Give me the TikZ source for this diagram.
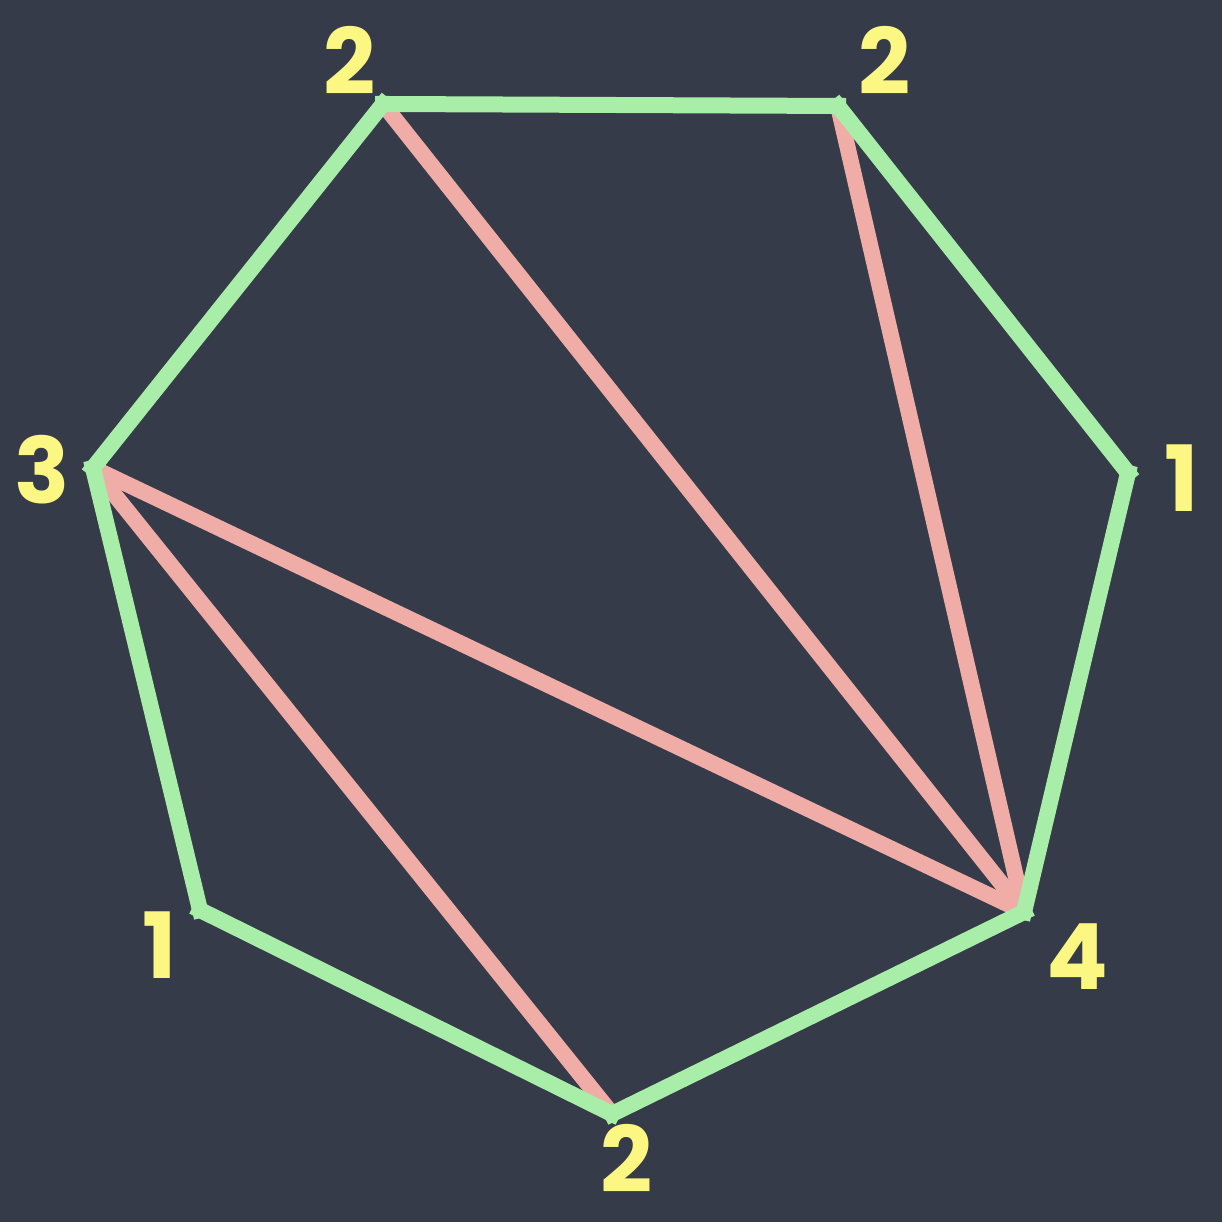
\documentclass[tikz,border=0pt]{standalone}
\usepackage{fontspec}
\setmainfont{Poppins}
\usetikzlibrary{positioning}
\definecolor{Board}{RGB}{53,59,72}
\definecolor{ChalkGreen}{RGB}{168,238,168}
\definecolor{ChalkRed}{RGB}{240,172,166}
\definecolor{ChalkYellow}{RGB}{252,246,130}

\begin{document}
\begin{tikzpicture}[
    side/.style={line width=0.16cm,ChalkGreen,line cap=rect},
    diag/.style={line width=0.16cm,ChalkRed,line cap=butt},
    num/.style={font=\fontsize{26}{26}\selectfont\bfseries,ChalkYellow,inner sep=0pt}
  ]
    \fill[Board] (0,0) rectangle (12.22,12.22);
    \useasboundingbox (0,0) rectangle (12.22,12.22);

    % corners of the heptagon
    \coordinate (A) at (3.83,11.18);
    \coordinate (B) at (8.38,11.16);
    \coordinate (C) at (11.28,7.49);
    \coordinate (D) at (10.24,3.10);
    \coordinate (E) at (6.12,1.08);
    \coordinate (F) at (2.00,3.12);
    \coordinate (G) at (0.93,7.54);

    % diagonals
    \draw[diag] (A) -- (D);
    \draw[diag] (B) -- (D);
    \draw[diag] (G) -- (D);
    \draw[diag] (G) -- (E);

    % sides
    \draw[side] (A) -- (B);
    \draw[side] (B) -- (C);
    \draw[side] (C) -- (D);
    \draw[side] (D) -- (E);
    \draw[side] (E) -- (F);
    \draw[side] (F) -- (G);
    \draw[side] (G) -- (A);

    % labels
    \node[num] (nA) at (3.50,11.62) {2};
    \node[num] (nB) at (8.85,11.62) {2};
    \node[num] (nC) at (11.82,7.44) {1};
    \node[num] (nD) at (10.77,2.65) {4};
    \node[num] (nE) at (6.27,0.64) {2};
    \node[num] (nF) at (1.60,2.77) {1};
    \node[num] (nG) at (0.42,7.52) {3};
  \end{tikzpicture}
\end{document}
